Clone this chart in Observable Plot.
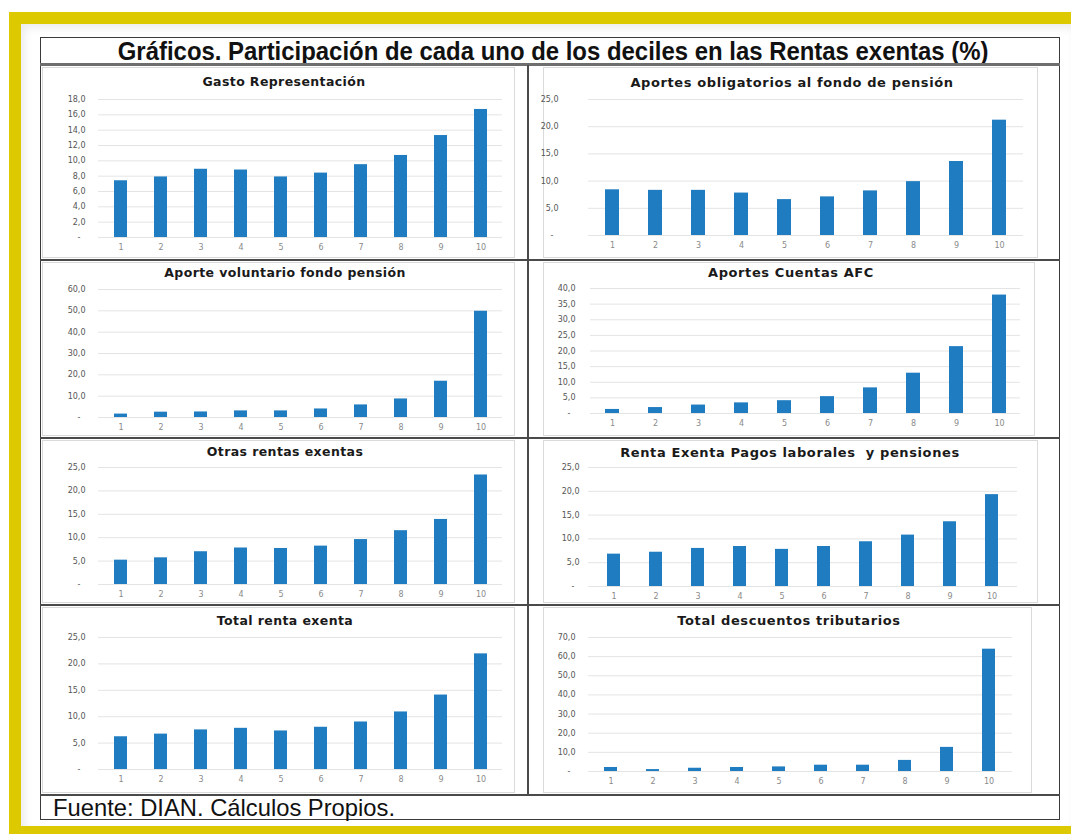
<!DOCTYPE html>
<html>
<head>
<meta charset="utf-8">
<script src="https://cdn.jsdelivr.net/npm/d3@7"></script>
<script src="https://cdn.jsdelivr.net/npm/@observablehq/plot@0.6"></script>
<style>
  html, body { margin:0; padding:0; background:#fff; }
  body { width:1071px; height:834px; position:relative; overflow:hidden; font-family:"DejaVu Sans", sans-serif; }
  .frame { position:absolute; left:9px; top:12px; width:1062px; border-top:12px solid #dcc900; border-left:12px solid #dcc900; border-bottom:8px solid #dcc900; box-sizing:border-box; height:822px; box-shadow: inset 4px 4px 8px rgba(0,0,0,0.08); }
  .table { position:absolute; left:40px; top:37px; width:1020px; height:783px; border:1.5px solid #3a3a3a; box-sizing:border-box; background:#fff; }
  .hline { position:absolute; left:40px; width:1020px; height:1.5px; background:#4a4a4a; }
  .vline { position:absolute; width:1.5px; background:#4a4a4a; }
  .main-title { position:absolute; left:40px; width:1020px; top:37px; height:28px; line-height:28px; text-align:center; font-family:"Liberation Sans Narrow","Arial Narrow","Liberation Sans",sans-serif; font-weight:bold; font-size:26px; color:#111; transform:scaleX(0.92); transform-origin:549px 50%; white-space:nowrap; }
  .footer { position:absolute; left:53px; top:795px; height:25px; line-height:25px; font-family:"Liberation Sans Narrow","Arial Narrow","Liberation Sans",sans-serif; font-size:24px; color:#111; transform:scaleX(0.99); transform-origin:0 50%; white-space:nowrap; }
  .box { position:absolute; border:1px solid #dadada; box-sizing:border-box; background:#fff; }
  .ptitle { position:absolute; font-family:"DejaVu Sans",sans-serif; font-weight:bold; color:#1a1a1a; transform:translate(-50%,-50%); white-space:pre; }
  .chart { position:absolute; }
</style>
</head>
<body>
<div class="frame"></div>
<div class="table"></div>
<div class="main-title">Gráficos. Participación de cada uno de los deciles en las Rentas exentas (%)</div>
<div class="footer">Fuente: DIAN. Cálculos Propios.</div>
<div id="root"></div>
<script>
// ---- Data ----
const deciles = ["1","2","3","4","5","6","7","8","9","10"];
const titulos = [
  "Gasto Representación",
  "Aportes obligatorios al fondo de pensión",
  "Aporte voluntario fondo pensión",
  "Aportes Cuentas AFC",
  "Otras rentas exentas",
  "Renta Exenta Pagos laborales  y pensiones",
  "Total renta exenta",
  "Total descuentos tributarios"
];
const gastoRepresentacion = [7.4, 7.9, 8.9, 8.8, 7.9, 8.4, 9.5, 10.7, 13.3, 16.7];
const aportesObligatorios = [8.4, 8.3, 8.3, 7.8, 6.6, 7.1, 8.2, 9.9, 13.6, 21.2];
const aporteVoluntario = [1.6, 2.5, 2.6, 3.1, 3.1, 4.0, 5.9, 8.7, 17.0, 49.8];
const aportesAFC = [1.3, 1.9, 2.7, 3.4, 4.1, 5.4, 8.2, 12.9, 21.4, 37.9];
const otrasRentas = [5.2, 5.7, 7.0, 7.8, 7.7, 8.2, 9.6, 11.5, 13.9, 23.4];
const rentaLaborales = [6.8, 7.2, 8.0, 8.4, 7.8, 8.4, 9.4, 10.8, 13.6, 19.3];
const totalRentaExenta = [6.2, 6.7, 7.5, 7.8, 7.3, 8.0, 9.0, 10.9, 14.1, 21.9];
const totalDescuentos = [2.1, 1.0, 1.7, 2.1, 2.4, 3.3, 3.3, 5.8, 12.6, 63.9];
const series = [gastoRepresentacion, aportesObligatorios, aporteVoluntario, aportesAFC, otrasRentas, rentaLaborales, totalRentaExenta, totalDescuentos];
const yMax = [18, 25, 60, 40, 25, 25, 25, 70];
const yStep = [2, 5, 10, 5, 5, 5, 5, 10];

// ---- Layout ----
const rowLines = [64, 260, 438, 605, 795];
const layout = [
  {bx:42,  by:67,  bw:473, bh:191, gl:98,  gr:502,  top:99,  base:237, tx:284, ty:81,  tp:13, fs:12.5},
  {bx:543, by:67,  bw:495, bh:191, gl:588, gr:1023, top:99,  base:235, tx:792, ty:82,  tp:30, fs:13},
  {bx:42,  by:262, bw:473, bh:174, gl:98,  gr:502,  top:289, base:417, tx:285, ty:272, tp:13, fs:12.5},
  {bx:543, by:262, bw:492, bh:174, gl:590, gr:1020, top:288, base:413, tx:791, ty:272, tp:15, fs:13},
  {bx:42,  by:440, bw:473, bh:163, gl:98,  gr:502,  top:467, base:584, tx:285, ty:451, tp:13, fs:12.5},
  {bx:543, by:440, bw:495, bh:163, gl:588, gr:1017, top:467, base:586, tx:790, ty:452, tp:9,  fs:13},
  {bx:42,  by:607, bw:473, bh:186, gl:98,  gr:502,  top:637, base:769, tx:285, ty:620, tp:13, fs:12.5},
  {bx:543, by:607, bw:489, bh:186, gl:588, gr:1012, top:637, base:771, tx:789, ty:620, tp:13, fs:13}
];

const root = document.getElementById("root");
function el(cls, style, text) {
  const d = document.createElement("div");
  d.className = cls;
  Object.assign(d.style, style);
  if (text) d.textContent = text;
  root.appendChild(d);
  return d;
}

// table lines
el("hline", {top: "63px", height: "2.5px", background: "#6e6e6e"});
rowLines.slice(1).forEach(y => el("hline", {top: (y - 0.75) + "px"}));
el("vline", {left: "527px", top: "65px", height: (795 - 65) + "px"});

const fmt = d => d === 0 ? "-\u00a0\u00a0" : d.toFixed(1).replace(".", ",");

layout.forEach((L, i) => {
  el("box", {left: L.bx + "px", top: L.by + "px", width: L.bw + "px", height: L.bh + "px"});
  el("ptitle", {left: L.tx + "px", top: L.ty + "px", fontSize: L.fs + "px", letterSpacing: (L.fs > 12.7 ? 0.6 : 0.4) + "px"}, titulos[i]);

  const svgTop = L.ty + 9;
  const svgBottom = L.by + L.bh - 2;
  const height = svgBottom - svgTop;
  const width = L.bw - 2;
  const left = L.bx + 1;
  const data = deciles.map((d, j) => ({decil: d, valor: series[i][j]}));
  const ticks = d3.range(0, yMax[i] + yStep[i] / 2, yStep[i]);

  const chart = Plot.plot({
    width, height,
    marginLeft: L.gl - left,
    marginRight: left + width - L.gr,
    marginTop: L.top - svgTop,
    marginBottom: svgBottom - L.base,
    style: {fontFamily: "DejaVu Sans, sans-serif", fontSize: "8px", background: "transparent", overflow: "visible"},
    x: {type: "band", domain: deciles, paddingInner: 0.68, paddingOuter: 0.34, label: null},
    y: {domain: [0, yMax[i]], label: null},
    marks: [
      Plot.ruleY(ticks, {stroke: "#e4e4e4", strokeWidth: 1}),
      Plot.barY(data, {x: "decil", y: "valor", fill: "#1f7cc0"}),
      Plot.axisY({ticks, tickFormat: fmt, tickSize: 0, tickPadding: L.tp, fill: "#555", label: null}),
      Plot.axisX({tickSize: 0, tickPadding: 7, fill: "#8a8a8a", label: null})
    ]
  });
  chart.classList.add("chart");
  Object.assign(chart.style, {position: "absolute", left: left + "px", top: svgTop + "px"});
  root.appendChild(chart);
});
</script>
</body>
</html>
